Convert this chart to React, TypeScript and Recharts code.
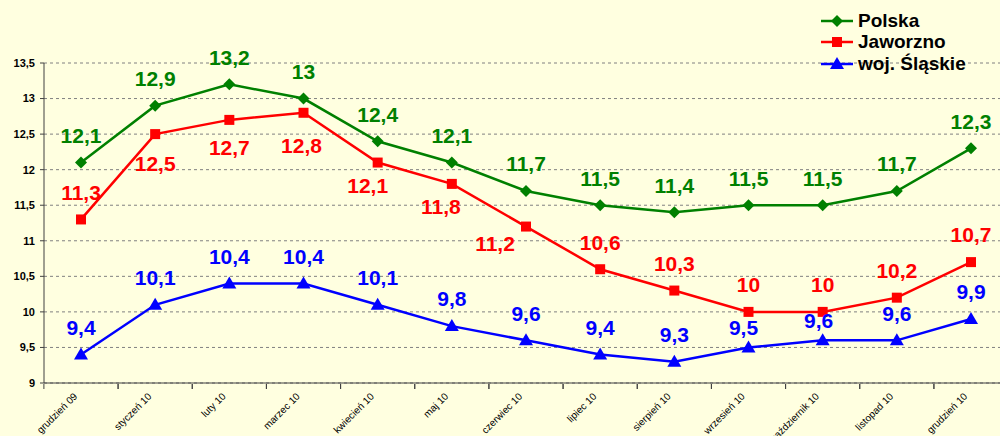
import React from "react";
import {
  CartesianGrid,
  LabelList,
  Line,
  LineChart,
  XAxis,
  YAxis,
} from "recharts";

const months = [
  "grudzień 09",
  "styczeń 10",
  "luty 10",
  "marzec 10",
  "kwiecień 10",
  "maj 10",
  "czerwiec 10",
  "lipiec 10",
  "sierpień 10",
  "wrzesień 10",
  "październik 10",
  "listopad 10",
  "grudzień 10",
];
const polska = [12.1, 12.9, 13.2, 13, 12.4, 12.1, 11.7, 11.5, 11.4, 11.5, 11.5, 11.7, 12.3];
const jaworzno = [11.3, 12.5, 12.7, 12.8, 12.1, 11.8, 11.2, 10.6, 10.3, 10, 10, 10.2, 10.7];
const slaskie = [9.4, 10.1, 10.4, 10.4, 10.1, 9.8, 9.6, 9.4, 9.3, 9.5, 9.6, 9.6, 9.9];
const yTicks = [9, 9.5, 10, 10.5, 11, 11.5, 12, 12.5, 13, 13.5];

const data = months.map((m, i) => ({
  month: m,
  polska: polska[i],
  jaworzno: jaworzno[i],
  slaskie: slaskie[i],
}));

const fmt = (v: number) => String(v).replace(".", ",");
const FONT = "Arial, 'Liberation Sans', sans-serif";

// label nudges (dx, dy) where the default "above" spot is not used
const redShift: Record<number, [number, number]> = {
  1: [0, 57],
  2: [0, 55],
  3: [-2, 60],
  4: [-10, 50],
  5: [-11, 50],
  6: [-31, 44],
};
const blueShift: Record<number, [number, number]> = {
  9: [-5, 7],
  10: [-4, 7],
};

function makeLabel(color: string, shift: Record<number, [number, number]>) {
  return (props: any) => {
    const { x, y, value, index } = props;
    const [dx, dy] = shift[index] || [0, 0];
    return (
      <text
        x={x + dx}
        y={y - 27 + dy}
        dy="0.35em"
        textAnchor="middle"
        fill={color}
        fontFamily={FONT}
        fontWeight="bold"
        fontSize={21}
      >
        {fmt(value)}
      </text>
    );
  };
}

const Diamond = ({ cx, cy, fill }: any) => (
  <path d={`M${cx},${cy - 6}L${cx + 6},${cy}L${cx},${cy + 6}L${cx - 6},${cy}Z`} fill={fill} />
);
const Square = ({ cx, cy, fill }: any) => (
  <rect x={cx - 5} y={cy - 5} width={10} height={10} fill={fill} />
);
const Triangle = ({ cx, cy, fill }: any) => (
  <path d={`M${cx},${cy - 7}L${cx + 7},${cy + 5}L${cx - 7},${cy + 5}Z`} fill={fill} />
);

const series = [
  { key: "polska", name: "Polska", color: "#008000", Shape: Diamond, shift: {} },
  { key: "jaworzno", name: "Jaworzno", color: "#FF0000", Shape: Square, shift: redShift },
  { key: "slaskie", name: "woj. Śląskie", color: "#0000FF", Shape: Triangle, shift: blueShift },
];

const MonthTick = (props: any) => {
  const { x, y, payload } = props;
  const half = 37.1;
  return (
    <g>
      <line x1={x - half} y1={y - 9} x2={x - half} y2={y - 4} stroke="#404040" />
      <line x1={x + half} y1={y - 9} x2={x + half} y2={y - 4} stroke="#404040" />
      <text
        x={x - 3}
        y={y + 4}
        transform={`rotate(-45, ${x - 3}, ${y + 4})`}
        textAnchor="end"
        fontFamily={FONT}
        fontSize={10}
        fill="#000"
      >
        {payload.value}
      </text>
    </g>
  );
};

const LegendBox = () => (
  <div
    style={{
      position: "absolute",
      left: 821,
      top: 10,
      fontFamily: FONT,
      fontWeight: "bold",
      fontSize: 19,
    }}
  >
    {series.map((s) => (
      <div key={s.key} style={{ display: "flex", alignItems: "center", height: 21.5 }}>
        <svg width={37} height={14}>
          <line x1={0} y1={7} x2={32} y2={7} stroke={s.color} strokeWidth={2.5} />
          <s.Shape cx={16} cy={7} fill={s.color} />
        </svg>
        <span style={{ color: "#000" }}>{s.name}</span>
      </div>
    ))}
  </div>
);

export default function App() {
  return (
    <div
      style={{
        position: "absolute",
        left: 0,
        top: 0,
        width: 1000,
        height: 436,
        overflow: "hidden",
        background: "#FFFFE0",
      }}
    >
      <LineChart
        width={1010}
        height={436}
        data={data}
        margin={{ top: 63, right: 2, bottom: 0, left: 0 }}
      >
        <CartesianGrid vertical={false} stroke="#808080" strokeDasharray="3 3" />
        <XAxis
          dataKey="month"
          interval={0}
          padding={{ left: 37, right: 37 }}
          axisLine={{ stroke: "#404040" }}
          tickLine={false}
          tick={<MonthTick />}
          height={53}
          tickMargin={4}
        />
        <YAxis
          width={44}
          domain={[9, 13.5]}
          ticks={yTicks}
          tickFormatter={fmt}
          axisLine={{ stroke: "#404040" }}
          tickLine={{ stroke: "#404040" }}
          tickSize={4}
          tickMargin={5}
          tick={{ fontFamily: FONT, fontSize: 11, fontWeight: "bold", fill: "#000" }}
        />
        {series.map((s) => (
          <Line
            key={s.key}
            dataKey={s.key}
            name={s.name}
            stroke={s.color}
            strokeWidth={2.5}
            isAnimationActive={false}
            dot={(p: any) => <s.Shape key={p.index} cx={p.cx} cy={p.cy} fill={s.color} />}
            activeDot={false}
          >
            <LabelList dataKey={s.key} content={makeLabel(s.color, s.shift)} />
          </Line>
        ))}
      </LineChart>
      <LegendBox />
    </div>
  );
}
